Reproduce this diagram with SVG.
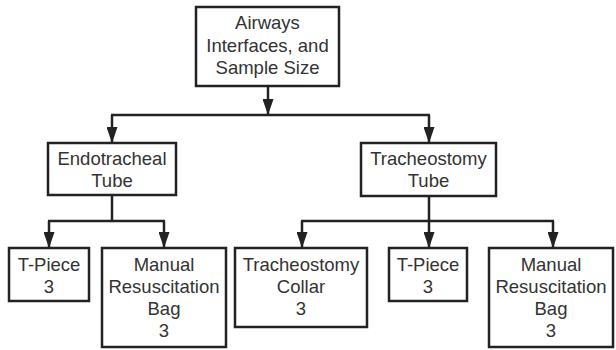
<svg xmlns="http://www.w3.org/2000/svg" width="616" height="350" viewBox="0 0 616 350">
<style>
.box{fill:#fff;stroke:#222;stroke-width:2.5}
.lbl{font-family:"Liberation Sans",Arial,sans-serif;font-size:18.5px;fill:#333;text-anchor:middle}
.con{fill:none;stroke:#222;stroke-width:2.5}
</style>
<defs>
<marker id="ah" viewBox="0 0 16 11" refX="16" refY="5.5" markerWidth="16" markerHeight="11" markerUnits="userSpaceOnUse" orient="auto">
<path d="M0,0 L16,5.5 L0,11 z" fill="#222"/>
</marker>
</defs>
<rect width="616" height="350" fill="#fff"/>
<g id="connectors">
<line class="con" x1="268" y1="86" x2="268" y2="115" marker-end="url(#ah)"/>
<line class="con" x1="111" y1="115" x2="430" y2="115"/>
<line class="con" x1="112" y1="115" x2="112" y2="143" marker-end="url(#ah)"/>
<line class="con" x1="429" y1="115" x2="429" y2="143" marker-end="url(#ah)"/>
<line class="con" x1="112" y1="195" x2="112" y2="221"/>
<line class="con" x1="48" y1="221" x2="165" y2="221"/>
<line class="con" x1="49" y1="221" x2="49" y2="248" marker-end="url(#ah)"/>
<line class="con" x1="164" y1="221" x2="164" y2="248" marker-end="url(#ah)"/>
<line class="con" x1="429" y1="196" x2="429" y2="221"/>
<line class="con" x1="301" y1="221" x2="554" y2="221"/>
<line class="con" x1="302" y1="221" x2="302" y2="248" marker-end="url(#ah)"/>
<line class="con" x1="429" y1="221" x2="429" y2="248" marker-end="url(#ah)"/>
<line class="con" x1="553" y1="221" x2="553" y2="248" marker-end="url(#ah)"/>
</g>
<g id="root">
<rect class="box" x="196" y="7" width="143" height="79"/>
<text class="lbl" x="267.5" y="29">Airways</text>
<text class="lbl" x="267.5" y="52">Interfaces, and</text>
<text class="lbl" x="267.5" y="74">Sample Size</text>
</g>
<g id="endotracheal">
<rect class="box" x="48" y="143" width="128" height="52"/>
<text class="lbl" x="112" y="165">Endotracheal</text>
<text class="lbl" x="112" y="187">Tube</text>
</g>
<g id="tracheostomy">
<rect class="box" x="361" y="143" width="135" height="53"/>
<text class="lbl" x="428.5" y="165">Tracheostomy</text>
<text class="lbl" x="428.5" y="187">Tube</text>
</g>
<g id="et-tpiece">
<rect class="box" x="9" y="248" width="80" height="53"/>
<text class="lbl" x="49" y="271">T-Piece</text>
<text class="lbl" x="49" y="293">3</text>
</g>
<g id="et-manual">
<rect class="box" x="102" y="248" width="124" height="99"/>
<text class="lbl" x="164" y="271">Manual</text>
<text class="lbl" x="164" y="293">Resuscitation</text>
<text class="lbl" x="164" y="315">Bag</text>
<text class="lbl" x="164" y="337">3</text>
</g>
<g id="tr-collar">
<rect class="box" x="235" y="248" width="132" height="79"/>
<text class="lbl" x="301" y="271">Tracheostomy</text>
<text class="lbl" x="301" y="293">Collar</text>
<text class="lbl" x="301" y="315">3</text>
</g>
<g id="tr-tpiece">
<rect class="box" x="389" y="248" width="78" height="53"/>
<text class="lbl" x="428" y="271">T-Piece</text>
<text class="lbl" x="428" y="293">3</text>
</g>
<g id="tr-manual">
<rect class="box" x="489" y="248" width="124" height="99"/>
<text class="lbl" x="551" y="271">Manual</text>
<text class="lbl" x="551" y="293">Resuscitation</text>
<text class="lbl" x="551" y="315">Bag</text>
<text class="lbl" x="551" y="337">3</text>
</g>
</svg>
